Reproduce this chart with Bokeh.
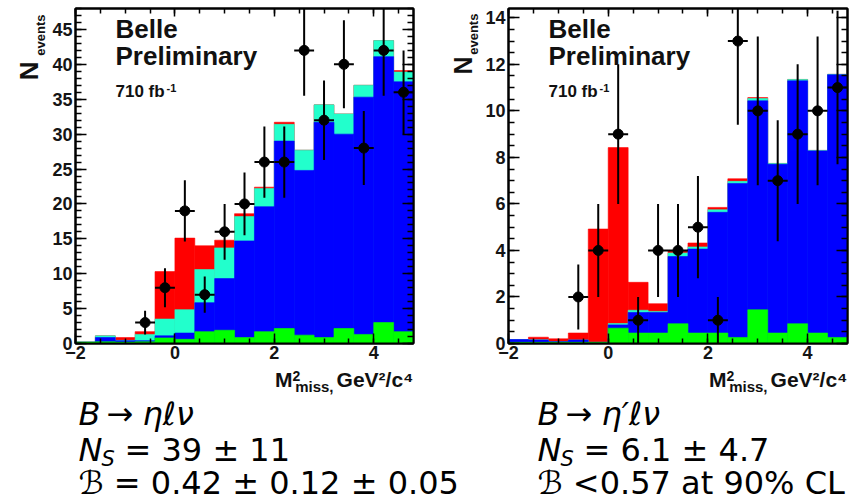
from math import pi
from bokeh.plotting import figure
from bokeh.models import Range1d, SingleIntervalTicker, LinearAxis, Label, ColumnDataSource
from bokeh.layouts import column, row
from bokeh.embed import file_html
from bokeh.resources import INLINE

# ---------------- data ----------------
m2_centers = [-1.8, -1.4, -1.0, -0.6, -0.2, 0.2, 0.6, 1.0, 1.4, 1.8,
              2.2, 2.6, 3.0, 3.4, 3.8, 4.2, 4.6]
bin_width = 0.4

# B -> eta l nu : cumulative stack tops (green < blue < cyan < red)
eta_green = [0.2, 0.25, 0.2, 0.25, 0.8, 0.6, 1.7, 1.9, 0.85, 1.7, 2.15, 1.2, 0.85, 2.15, 1.3, 3.0, 1.7]
eta_blue = [0.2, 0.85, 0.4, 0.4, 1.1, 1.5, 5.85, 9.3, 14.7, 19.6, 29.0, 24.8, 31.7, 30.0, 35.3, 41.1, 37.5]
eta_cyan = [0.2, 1.1, 0.45, 1.3, 3.5, 4.85, 10.6, 13.7, 18.2, 22.2, 31.4, 27.7, 34.2, 32.9, 37.0, 43.4, 38.9]
eta_red = [0.2, 1.1, 0.85, 1.7, 10.3, 15.1, 14.0, 14.8, 18.6, 22.4, 31.7, 27.7, 34.2, 32.9, 37.0, 43.4, 39.1]
eta_data_x = [-0.6, -0.2, 0.2, 0.6, 1.0, 1.4, 1.8, 2.2, 2.6, 3.0, 3.4, 3.8, 4.2, 4.6]
eta_data_n = [3, 8, 19, 7, 16, 20, 26, 26, 42, 32, 40, 28, 42, 36]
eta_data_err = [1.7, 2.8, 4.4, 2.6, 4.0, 4.5, 5.1, 5.1, 6.5, 5.7, 6.3, 5.3, 6.5, 6.0]

# B -> eta' l nu
etap_green = [0.05, 0.05, 0.05, 0.05, 0.05, 0.66, 0.45, 0.45, 0.85, 0.45, 0.45, 0.26, 1.45, 0.45, 0.85, 0.45, 0.26]
etap_blue = [0.17, 0.15, 0.08, 0.15, 0.05, 0.8, 1.33, 1.33, 3.74, 4.06, 5.64, 6.88, 10.43, 7.70, 11.29, 8.28, 11.55]
etap_cyan = [0.17, 0.16, 0.08, 0.15, 0.05, 0.86, 1.43, 1.38, 3.89, 4.15, 5.75, 6.97, 10.53, 7.74, 11.35, 8.30, 11.57]
etap_red = [0.17, 0.27, 0.2, 0.45, 4.92, 8.42, 2.63, 1.71, 3.99, 4.32, 5.85, 7.08, 10.57, 7.74, 11.35, 8.30, 11.57]
etap_data_x = [-0.6, -0.2, 0.2, 0.6, 1.0, 1.4, 1.8, 2.2, 2.6, 3.0, 3.4, 3.8, 4.2, 4.6]
etap_data_n = [2, 4, 9, 1, 4, 4, 5, 1, 13, 10, 7, 9, 10, 11]
etap_data_err = [1.4, 2.0, 3.0, 1.0, 2.0, 2.0, 2.2, 1.0, 3.6, 3.2, 2.6, 3.0, 3.2, 3.3]

RED = "#FF0000"
CYAN = "#22FFCC"
BLUE = "#0000FF"
GREEN = "#00FF00"
TICK_FONT = "Liberation Sans"
H = 365  # height of the panel row


def style_axis(ax, tick_in, minor_in, labels=True, standoff=3):
    ax.axis_line_width = 2
    ax.axis_line_color = "black"
    ax.major_tick_in = tick_in
    ax.major_tick_out = 0
    ax.minor_tick_in = minor_in
    ax.minor_tick_out = 0
    ax.major_tick_line_width = 1.5
    ax.minor_tick_line_width = 1.5
    ax.major_tick_line_color = "black"
    ax.minor_tick_line_color = "black"
    ax.axis_label = None
    if labels:
        ax.major_label_text_font = TICK_FONT
        ax.major_label_text_font_style = "bold"
        ax.major_label_text_font_size = "18px"
        ax.major_label_text_color = "#151515"
        ax.major_label_standoff = standoff
    else:
        ax.major_label_text_font_size = "1px"
        ax.major_label_text_color = None
        ax.major_label_standoff = 0


def add_label(p, text, x, y, xo, yo, size, style="bold", align="left", angle=0.0,
              font=TICK_FONT, color="#111111"):
    p.add_layout(Label(x=x, y=y, x_offset=xo, y_offset=yo, text=text,
                       text_font=font, text_font_size=size, text_font_style=style,
                       text_align=align, text_baseline="middle", angle=angle,
                       text_color=color))


def make_panel(width, bl, br, ymax, yint, yminor, green, blue, cyan, red, dx, dn, derr):
    p = figure(width=width, height=H, x_range=Range1d(-2, 4.8), y_range=Range1d(0, ymax),
               output_backend="svg", toolbar_location=None, title=None,
               min_border_left=bl, min_border_right=br, min_border_top=8, min_border_bottom=22)
    p.grid.visible = False
    p.outline_line_color = "black"
    p.outline_line_width = 2
    p.xaxis.ticker = SingleIntervalTicker(interval=2, num_minor_ticks=4)
    p.yaxis.ticker = SingleIntervalTicker(interval=yint, num_minor_ticks=yminor)
    style_axis(p.xaxis[0], 10, 5, standoff=2)
    style_axis(p.yaxis[0], 11, 6, standoff=3)

    top = LinearAxis(ticker=SingleIntervalTicker(interval=2, num_minor_ticks=4))
    style_axis(top, 8, 5, labels=False)
    p.add_layout(top, "above")
    right = LinearAxis(ticker=SingleIntervalTicker(interval=yint, num_minor_ticks=yminor))
    style_axis(right, 11, 6, labels=False)
    p.add_layout(right, "right")

    src = ColumnDataSource(dict(x=m2_centers, g=green, b=blue, c=cyan, r=red))
    for col, colr in (("r", RED), ("c", CYAN), ("b", BLUE), ("g", GREEN)):
        p.vbar(x="x", width=bin_width, bottom=0, top=col, source=src,
               fill_color=colr, line_color=colr, line_width=0.6)

    d = ColumnDataSource(dict(x=dx, n=dn, lo=[n - e for n, e in zip(dn, derr)],
                              hi=[n + e for n, e in zip(dn, derr)],
                              xl=[x - bin_width / 2 for x in dx], xr=[x + bin_width / 2 for x in dx]))
    p.segment(x0="x", y0="lo", x1="x", y1="hi", source=d, line_color="black", line_width=2)
    p.segment(x0="xl", y0="n", x1="xr", y1="n", source=d, line_color="black", line_width=2)
    p.scatter(x="x", y="n", source=d, size=10, color="black")

    # in-frame texts (anchored at frame top-left, offsets in px)
    add_label(p, "Belle", -2, ymax, 40, -20, "26px")
    add_label(p, "Preliminary", -2, ymax, 40, -47, "26px")
    add_label(p, "710 fb", -2, ymax, 40, -83, "17px")
    add_label(p, "-1", -2, ymax, 91, -79, "11px")
    return p


def blank(width, height):
    f = figure(width=width, height=height, x_range=Range1d(0, width), y_range=Range1d(height, 0),
               output_backend="svg", toolbar_location=None, x_axis_type=None, y_axis_type=None,
               min_border=0, title=None)
    f.grid.visible = False
    f.outline_line_color = None
    return f


# y-axis titles N_events (own narrow canvases left of each panel)
tL = blank(48, H)
add_label(tL, "N", 28, 68, 0, 0, "26px", align="center", angle=pi / 2)
add_label(tL, "events", 40, 29, 0, 0, "13px", align="center", angle=pi / 2)
tR = blank(36, H)
add_label(tR, "N", 16, 62, 0, 0, "25px", align="center", angle=pi / 2)
add_label(tR, "events", 27, 28, 0, 0, "13px", align="center", angle=pi / 2)

pL = make_panel(398, 27, 33, 48, 5, 5, eta_green, eta_blue, eta_cyan, eta_red,
                eta_data_x, eta_data_n, eta_data_err)
pR = make_panel(386, 26, 21, 14.4, 2, 4, etap_green, etap_blue, etap_cyan, etap_red,
                etap_data_x, etap_data_n, etap_data_err)

# ---------------- x titles and result texts below the panels ----------------
pt = blank(868, 502 - H)

# x titles: M^2_miss, GeV^2/c^4 (right end at each frame's right edge)
for xr in (413, 847):
    add_label(pt, "GeV\u00b2/c\u2074", xr, 14, 0, 0, "21px", align="right")
    add_label(pt, "miss,", xr - 80, 21, 0, 0, "15px", align="right")
    add_label(pt, "2", xr - 121, 10, 0, 0, "14px", align="left")
    add_label(pt, "M", xr - 121, 14, 0, 0, "21px", align="right")

BF = "DejaVu Sans"
S = "32px"


def tl(text, x, y, size=S, style="normal"):
    pt.add_layout(Label(x=x, y=y, text=text, text_font=BF, text_font_size=size,
                        text_font_style=style, text_align="left", text_baseline="middle",
                        text_color="black"))


L1, L2, L3 = 413 - H, 449 - H, 482 - H

# left column
tl("B", 78, L1, style="italic")
tl("\u2192", 106, L1)
tl("\u03b7\u2113\u03bd", 142, L1, style="italic")
tl("N", 78, L2, style="italic")
tl("S", 101, L2 + 9, size="21px", style="italic")
tl("= 39 \u00b1 11", 124, L2)
tl("\u212c = 0.42 \u00b1 0.12 \u00b1 0.05", 78, L3)

# right column
tl("B", 537, L1, style="italic")
tl("\u2192", 565, L1)
tl("\u03b7\u2032\u2113\u03bd", 601, L1, style="italic")
tl("N", 537, L2, style="italic")
tl("S", 560, L2 + 9, size="21px", style="italic")
tl("= 6.1 \u00b1 4.7", 583, L2)
tl("\u212c <0.57 at 90% CL", 537, L3)

layout = column(row(tL, pL, tR, pR), pt)
open("out.html", "w").write(file_html(layout, INLINE))
